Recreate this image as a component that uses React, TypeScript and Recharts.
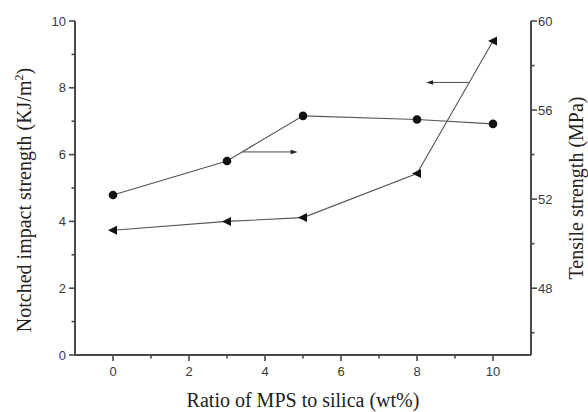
import { LineChart, Line, XAxis, YAxis, ReferenceLine } from 'recharts'

const ratio = [0, 3, 5, 8, 10]
const impactStrength = [4.79, 5.81, 7.16, 7.05, 6.92]
const tensileStrength = [50.6, 51.0, 51.17, 53.15, 59.1]

const xTicks = [0, 1, 2, 3, 4, 5, 6, 7, 8, 9, 10]
const leftTicks = [0, 1, 2, 3, 4, 5, 6, 7, 8, 9, 10]
const rightTicks = [46, 48, 50, 52, 54, 56, 58, 60]
const rightMajor = [48, 52, 56, 60]

// arrows pointing from each curve toward its axis
const impactArrow = [
  { x: 3.41, y: 6.08 },
  { x: 4.86, y: 6.08 },
]
const tensileArrow = [
  { x: 9.36, y: 8.16 },
  { x: 8.24, y: 8.16 },
]

const data = ratio.map((r, i) => ({
  ratio: r,
  impact: impactStrength[i],
  tensile: tensileStrength[i],
}))

const AXIS = '#4a4a4a'
const TEXT = '#3a3a3a'
const tickFont = { fontFamily: '"Liberation Sans", Arial, sans-serif', fontSize: 13, fill: TEXT }
const titleFont = { fontFamily: '"Liberation Serif", "Times New Roman", serif', fontSize: 20, fill: '#222' }

const BottomTick = ({ x, y, payload }: any) => {
  const major = payload.value % 2 === 0
  return (
    <g>
      <line x1={x} x2={x} y1={y} y2={y + (major ? 6 : 3.5)} stroke={AXIS} strokeWidth={1.6} />
      {major && (
        <text x={x} y={y + 21} textAnchor="middle" {...tickFont}>
          {payload.value}
        </text>
      )}
    </g>
  )
}

const TopTick = ({ x, y, payload }: any) => {
  const major = payload.value % 2 === 0
  return <line x1={x} x2={x} y1={y} y2={y + (major ? 6 : 3.5)} stroke={AXIS} strokeWidth={1.6} />
}

const LeftTick = ({ x, y, payload }: any) => {
  const major = payload.value % 2 === 0
  return (
    <g>
      <line x1={x} x2={x - (major ? 6 : 3.5)} y1={y} y2={y} stroke={AXIS} strokeWidth={1.6} />
      {major && (
        <text x={x - 9} y={y} dy="0.35em" textAnchor="end" {...tickFont}>
          {payload.value}
        </text>
      )}
    </g>
  )
}

const RightTick = ({ x, y, payload }: any) => {
  const major = rightMajor.includes(payload.value)
  return (
    <g>
      <line x1={x} x2={x + (major ? 6 : 3.5)} y1={y} y2={y} stroke={AXIS} strokeWidth={1.6} />
      {major && (
        <text x={x + 7} y={y} dy="0.35em" textAnchor="start" {...tickFont}>
          {payload.value}
        </text>
      )}
    </g>
  )
}

const Circle = ({ cx, cy }: any) => <circle cx={cx} cy={cy} r={4.3} fill="#111" />

const Triangle = ({ cx, cy }: any) => (
  <polygon points={`${cx - 5},${cy} ${cx + 4},${cy - 4.5} ${cx + 4},${cy + 4.5}`} fill="#111" />
)

const Arrow = ({ x1, y1, x2, y2 }: any) => {
  const dir = Math.sign(x2 - x1)
  return (
    <g>
      <line x1={x1} y1={y1} x2={x2 - dir * 4} y2={y2} stroke={AXIS} strokeWidth={1} />
      <polygon
        points={`${x2},${y2} ${x2 - dir * 7},${y2 - 2.3} ${x2 - dir * 7},${y2 + 2.3}`}
        fill="#222"
      />
    </g>
  )
}

const XTitle = ({ viewBox }: any) => (
  <text x={viewBox.x + viewBox.width / 2} y={viewBox.y + 52} textAnchor="middle" {...titleFont}>
    Ratio of MPS to silica (wt%)
  </text>
)

const LeftTitle = ({ viewBox }: any) => {
  const x = viewBox.x + 31
  const y = 200
  return (
    <text x={x} y={y} transform={`rotate(-90, ${x}, ${y})`} textAnchor="middle" {...titleFont}>
      Notched impact strength (KJ/m
      <tspan dy={-8} fontSize={12}>2</tspan>
      <tspan dy={8}>)</tspan>
    </text>
  )
}

const RightTitle = ({ viewBox }: any) => {
  const x = viewBox.x + 52
  const y = viewBox.y + viewBox.height / 2
  return (
    <text x={x} y={y} transform={`rotate(-90, ${x}, ${y})`} textAnchor="middle" {...titleFont}>
      Tensile strength (MPa)
    </text>
  )
}

export default function App() {
  return (
    <div style={{ position: 'absolute', left: 0, top: 0, background: '#fff' }}>
      <LineChart width={588} height={412} data={data} margin={{ top: 21, right: 0, bottom: 0, left: 0 }}>
        <XAxis
          dataKey="ratio"
          type="number"
          domain={[-1, 11]}
          allowDataOverflow
          ticks={xTicks}
          interval={0}
          height={57}
          tickSize={0}
          tickMargin={0}
          tickLine={false}
          tick={<BottomTick />}
          axisLine={{ stroke: AXIS, strokeWidth: 2 }}
          label={(p: any) => <XTitle {...p} />}
        />
        <XAxis
          xAxisId="top"
          orientation="top"
          type="number"
          domain={[-1, 11]}
          allowDataOverflow
          ticks={xTicks}
          interval={0}
          height={0}
          tickSize={0}
          tickMargin={0}
          tickLine={false}
          tick={<TopTick />}
          axisLine={{ stroke: AXIS, strokeWidth: 2 }}
        />
        <YAxis
          yAxisId="left"
          type="number"
          domain={[0, 10]}
          allowDataOverflow
          ticks={leftTicks}
          interval={0}
          width={75}
          tickSize={0}
          tickMargin={0}
          tickLine={false}
          tick={<LeftTick />}
          axisLine={{ stroke: AXIS, strokeWidth: 2 }}
          label={(p: any) => <LeftTitle {...p} />}
        />
        <YAxis
          yAxisId="right"
          orientation="right"
          type="number"
          domain={[45, 60]}
          allowDataOverflow
          ticks={rightTicks}
          interval={0}
          width={57}
          tickSize={0}
          tickMargin={0}
          tickLine={false}
          tick={<RightTick />}
          axisLine={{ stroke: AXIS, strokeWidth: 2 }}
          label={(p: any) => <RightTitle {...p} />}
        />

        <ReferenceLine yAxisId="left" segment={impactArrow} shape={(p: any) => <Arrow {...p} />} />
        <ReferenceLine yAxisId="left" segment={tensileArrow} shape={(p: any) => <Arrow {...p} />} />

        <Line
          yAxisId="left"
          dataKey="impact"
          type="linear"
          stroke="#555"
          strokeWidth={1.1}
          dot={<Circle />}
          activeDot={false}
          isAnimationActive={false}
        />
        <Line
          yAxisId="right"
          dataKey="tensile"
          type="linear"
          stroke="#555"
          strokeWidth={1.1}
          dot={<Triangle />}
          activeDot={false}
          isAnimationActive={false}
        />
      </LineChart>
    </div>
  )
}
